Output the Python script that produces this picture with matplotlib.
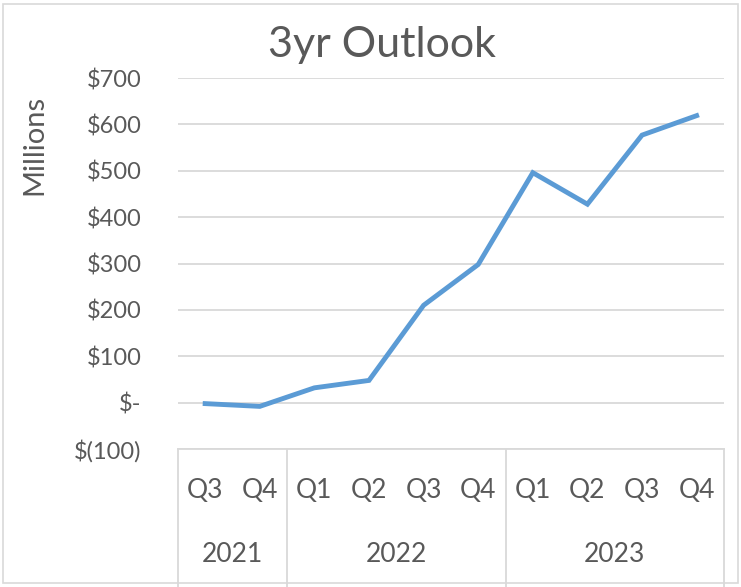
import matplotlib.pyplot as plt
from matplotlib.patches import Rectangle
from matplotlib.ticker import FuncFormatter

# --- Quarterly outlook (millions of dollars) ---
quarters = ['Q3', 'Q4', 'Q1', 'Q2', 'Q3', 'Q4', 'Q1', 'Q2', 'Q3', 'Q4']
years = ['2021', '2022', '2023']
quarters_per_year = [2, 4, 4]
values = [-2, -8, 32, 48, 210, 298, 496, 428, 577, 619]

text_color = '#595959'
grid_color = '#D9D9D9'
line_color = '#5B9BD5'

plt.rcParams['font.family'] = ['Lato', 'DejaVu Sans']

fig = plt.figure(figsize=(7.41, 5.87), dpi=100)
fig.patches.append(Rectangle((0.004, 0.007), 0.992, 0.986, transform=fig.transFigure,
                             fill=False, edgecolor='#D9D9D9', linewidth=1.2))

ax = fig.add_axes([0.240, 0.235, 0.737, 0.632])
x = list(range(len(values)))
ax.plot(x, values, color=line_color, linewidth=3.5, solid_joinstyle='miter')

ax.set_xlim(-0.5, len(values) - 0.5)
ax.set_ylim(-100, 700)
ax.set_yticks(range(-100, 701, 100))


def dollars(v, pos):
    if v == 0:
        return '$-'
    if v < 0:
        return f'$({abs(v):.0f})'
    return f'${v:.0f}'


ax.yaxis.set_major_formatter(FuncFormatter(dollars))
ax.tick_params(axis='y', length=0, pad=26, labelsize=17, labelcolor=text_color)
ax.tick_params(axis='x', length=0, labelbottom=False)
ax.grid(axis='y', color=grid_color, linewidth=1.3)
ax.set_axisbelow(True)
for side in ['top', 'right', 'left', 'bottom']:
    ax.spines[side].set_visible(False)

ax.set_ylabel('Millions', fontsize=21, color=text_color)
ax.yaxis.set_label_coords(-0.238, 0.82)

fig.text(0.515, 0.903, '3yr Outlook', ha='center', va='baseline',
         fontsize=31, color=text_color)

# multi-level category axis: quarter row, year row, separators
trans = ax.get_xaxis_transform()
box_bottom = -0.555
ax.plot([-0.5, len(values) - 0.5], [0, 0], transform=trans, color=grid_color,
        linewidth=1.3, clip_on=False)
for i, q in enumerate(quarters):
    ax.text(i, -0.113, q, transform=trans, ha='center', va='center',
            fontsize=19, color=text_color)
start = 0
edges = [-0.5]
for yr, n in zip(years, quarters_per_year):
    center = start + (n - 1) / 2
    ax.text(center, -0.285, yr, transform=trans, ha='center', va='center',
            fontsize=19, color=text_color)
    start += n
    edges.append(start - 0.5)
for e in edges:
    ax.plot([e, e], [0, box_bottom], transform=trans, color=grid_color,
            linewidth=1.3, clip_on=False)

plt.savefig('out.png', dpi=100)
